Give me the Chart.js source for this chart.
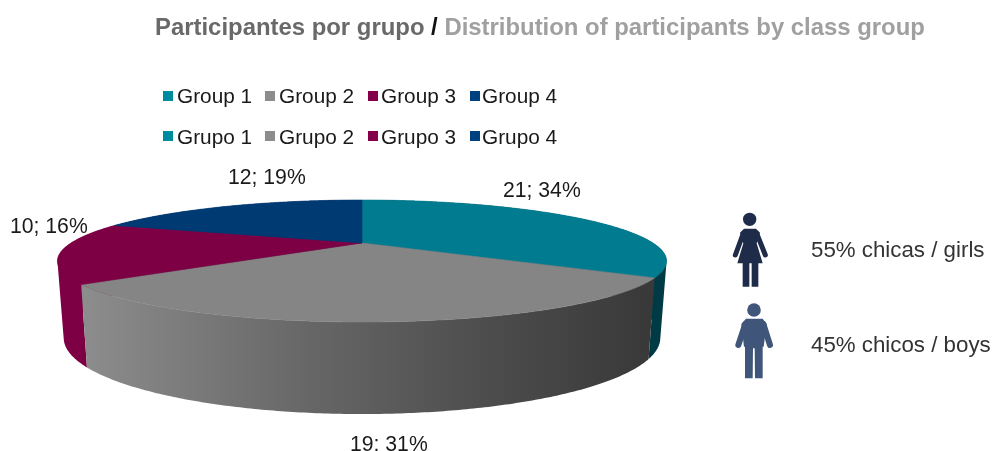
<!DOCTYPE html>
<html><head><meta charset="utf-8">
<style>html,body{margin:0;padding:0;background:#fff}canvas{display:block}</style>
<script src="https://cdn.jsdelivr.net/npm/chart.js@4"></script>
</head><body><canvas id="c" width="992" height="451"></canvas>
<script>
const groupsEn = ['Group 1','Group 2','Group 3','Group 4'];
const groupsEs = ['Grupo 1','Grupo 2','Grupo 3','Grupo 4'];
const participants = [21,19,10,12];
const sliceColors = ['#007b90','#858585','#7d0044','#003a73'];
const legendColors = ['#008a9e','#8c8c8c','#85004c','#003f80'];
const titleParts = [['Participantes por grupo ','#696969'],['/ ','#111111'],['Distribution of participants by class group','#a0a0a0']];
const genderTexts = ['55% chicas / girls','45% chicos / boys'];

const FONT = '"Liberation Sans", Helvetica, Arial, sans-serif';
const K = 0.295;
const TOP = {cx:362, cy:243, a:291, b:55.7};
const BOT = {cx:362, cy:315.6, a:285, b:69.4};
function proj(P, t){
  const u=Math.cos(t), v=Math.sin(t), f=1/(1-K*v);
  return [P.cx+P.a*u*f, P.cy+P.b*v*f];
}
function arcPts(P, s, e){
  const n=Math.max(2,Math.ceil((e-s)/0.01)), r=[];
  for(let i=0;i<=n;i++) r.push(proj(P, s+(e-s)*i/n));
  return r;
}
function tracePoly(ctx, pts){
  pts.forEach((p,i)=> i?ctx.lineTo(p[0],p[1]):ctx.moveTo(p[0],p[1]));
  ctx.closePath();
}
function fillPoly(ctx, pts, fill){
  ctx.beginPath();
  tracePoly(ctx,pts);
  ctx.fillStyle=fill; ctx.fill();
  ctx.strokeStyle=fill; ctx.lineWidth=0.6; ctx.stroke();
}
function area(q){
  let s=0;
  q.forEach((p,i)=>{const n=q[(i+1)%q.length]; s+=p[0]*n[1]-n[0]*p[1];});
  return s;
}
function wallFill(ctx, i, arc){
  if(i===0) return '#003a45';
  if(i===2) return sliceColors[2];
  if(i===3) return '#002a55';
  const l=proj(BOT,arc.endAngle), r=proj(BOT,arc.startAngle);
  const g=ctx.createLinearGradient(l[0],0,r[0],0);
  g.addColorStop(0,'#8c8c8c'); g.addColorStop(0.4,'#666666'); g.addColorStop(0.75,'#4a4a4a'); g.addColorStop(1,'#393939');
  return g;
}
const pie3d = {
  id:'pie3d',
  beforeDatasetsDraw(chart){
    const ctx=chart.ctx, arcs=chart.getDatasetMeta(0).data;
    [3,0,2,1].forEach(i=>{
      const a=arcs[i], t=arcPts(TOP,a.startAngle,a.endAngle), b=arcPts(BOT,a.startAngle,a.endAngle);
      ctx.beginPath();
      for(let j=0;j<t.length-1;j++){
        const q=[t[j],t[j+1],b[j+1],b[j]];
        if(area(q)<0) q.reverse();
        tracePoly(ctx,q);
      }
      ctx.fillStyle=wallFill(ctx,i,a);
      ctx.fill('nonzero');
    });
    arcs.forEach((a,i)=>{
      a.draw=function(c){
        const pts=[[TOP.cx,TOP.cy]].concat(arcPts(TOP,this.startAngle,this.endAngle));
        fillPoly(c,pts,this.options.backgroundColor);
      };
    });
  },
  afterDraw(chart){
    const ctx=chart.ctx;
    ctx.save();
    ctx.textBaseline='alphabetic'; ctx.textAlign='left';
    // title
    ctx.font='bold 23.9px '+FONT;
    let x=155;
    titleParts.forEach(([t,c])=>{ctx.fillStyle=c;ctx.fillText(t,x,34.5);x+=ctx.measureText(t).width;});
    // legends
    const swX=[163,265,368,470], txX=[177,279,381,482];
    ctx.font='20.8px '+FONT;
    [[groupsEn,91,103],[groupsEs,131,144]].forEach(([names,sy,by])=>{
      names.forEach((n,i)=>{
        ctx.fillStyle=legendColors[i]; ctx.fillRect(swX[i],sy,10,10);
        ctx.fillStyle='#1a1a1a'; ctx.fillText(n,txX[i],by);
      });
    });
    // data labels
    const total=chart.data.datasets[0].data.reduce((a,b)=>a+b,0);
    const lab=[[503,197],[350,451],[10,233],[228,184]];
    ctx.font='21.2px '+FONT;
    participants.forEach((v,i)=>{
      ctx.fillText(v+'; '+Math.round(v/total*100)+'%',lab[i][0],lab[i][1]);
    });
    // gender texts
    ctx.fillStyle='#333333';
    ctx.font='22.3px '+FONT;
    ctx.fillText(genderTexts[0],811,257);
    ctx.fillText(genderTexts[1],811,352);
    drawPeople(ctx);
    ctx.restore();
  }
};
function drawPeople(ctx){
  const z=(x,y)=>[720+x/3,200+y/3];
  const poly=(pts,col)=>{ctx.beginPath();pts.forEach((p,i)=>{const q=z(p[0],p[1]);i?ctx.lineTo(q[0],q[1]):ctx.moveTo(q[0],q[1]);});ctx.closePath();ctx.fillStyle=col;ctx.fill();};
  const line=(a,b,w,col)=>{const p=z(a[0],a[1]),q=z(b[0],b[1]);ctx.beginPath();ctx.moveTo(p[0],p[1]);ctx.lineTo(q[0],q[1]);ctx.lineWidth=w;ctx.lineCap='round';ctx.strokeStyle=col;ctx.stroke();};
  const head=(x,y,r,col)=>{const p=z(x,y);ctx.beginPath();ctx.arc(p[0],p[1],r,0,Math.PI*2);ctx.fillStyle=col;ctx.fill();};
  const f='#1f2c49', m='#3f5579';
  head(89,58,6.7,f);
  poly([[72,86],[108,86],[120,98],[110,130],[128,190],[115,190],[115,260],[95,260],[95,190],[88,190],[88,260],[68,260],[68,190],[52,190],[70,130],[60,98]],f);
  line([70,100],[46,165],5,f);
  line([110,100],[136,165],5,f);
  head(102,330,6.8,m);
  poly([[78,356],[128,356],[140,372],[131,440],[128,440],[128,535],[105,535],[104,445],[99,445],[98,535],[75,535],[75,440],[72,440],[64,372]],m);
  line([76,372],[55,435],6,m);
  line([130,372],[150,435],6,m);
}
new Chart(document.getElementById('c'),{
  type:'pie',
  data:{labels:groupsEs,datasets:[{data:participants,backgroundColor:sliceColors,borderWidth:0}]},
  options:{
    responsive:false,animation:false,
    plugins:{legend:{display:false},title:{display:false},tooltip:{enabled:false}}
  },
  plugins:[pie3d]
});
</script></body></html>
